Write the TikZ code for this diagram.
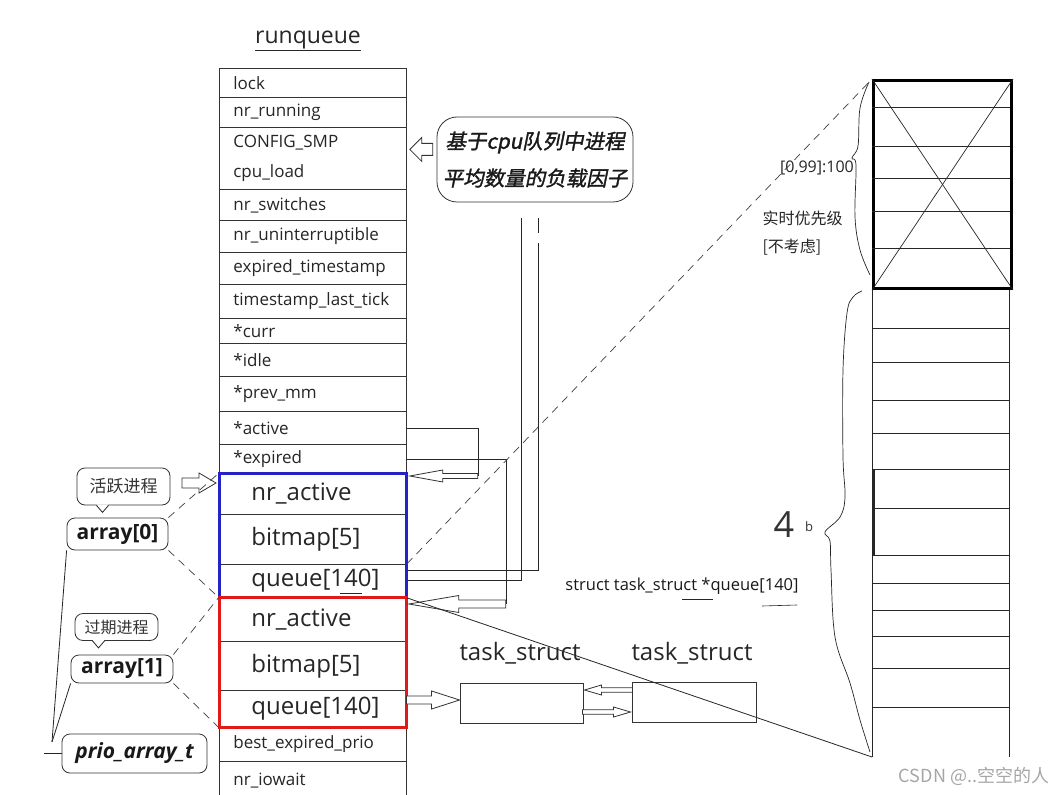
\documentclass[tikz,border=0pt]{standalone}
\usepackage{fontspec}
\setmainfont{Open Sans}
\newfontfamily\cjk{Noto Sans CJK SC}
\newfontfamily\cjkbi[FakeSlant=0.2,FakeBold=1.5]{Noto Sans CJK SC}
\usetikzlibrary{calc}
\definecolor{fblue}{RGB}{35,35,200}
\definecolor{fred}{RGB}{225,25,25}
\newcommand{\fsz}[1]{\fontsize{#1}{#1}\selectfont}
% hollow arrows: #1 tip, #2 total length, #3 head length, #4 head half height, #5 shaft half height
\newcommand{\arrL}[5]{\draw[harrow] (#1) -- ++(#3,-#4) -- ++(0,#4-#5) -- ++(#2-#3,0) -- ++(0,2*#5) -- ++(-#2+#3,0) -- ++(0,#4-#5) -- cycle;}
\newcommand{\arrR}[5]{\draw[harrow] (#1) -- ++(-#3,-#4) -- ++(0,#4-#5) -- ++(-#2+#3,0) -- ++(0,2*#5) -- ++(#2-#3,0) -- ++(0,#4-#5) -- cycle;}
\begin{document}
\begin{tikzpicture}[x=1pt,y=-1pt,
  ln/.style={draw=black!85, line width=0.8pt},
  row/.style={draw=black!80, line width=0.8pt, minimum width=187, anchor=north west, inner xsep=14, inner ysep=0, text width=159, align=left, font=\fsz{17}, text=black!85},
  big/.style={row, inner xsep=32, text width=123, font=\fsz{24}},
  dsh/.style={draw=black!75, line width=0.7pt, dash pattern=on 8pt off 6pt},
  bubble/.style={draw=black!80, line width=0.8pt, rounded corners=8, fill=white, inner sep=0},
  harrow/.style={draw=black!80, line width=0.8pt, fill=white},
  grid/.style={draw=black!85, line width=0.7pt},
]
\useasboundingbox (0,0) rectangle (1064,794);
\fill[white] (0,0) rectangle (1064,794);

% title
\node[font=\fsz{23}, text=black!85] (title) at (308,41) {\underline{runqueue}};

% runqueue rows
\node[row, minimum height=29] (lock) at (219,68) {lock};
\node[row, minimum height=30] (nrr) at (219,97) {nr\_running};
\node[row, minimum height=62] (smp) at (219,127) {CONFIG\_SMP\\[13pt]cpu\_load};
\node[row, minimum height=31] (nrsw) at (219,189) {nr\_switches};
\node[row, minimum height=32] (nrun) at (219,220) {nr\_uninterruptible};
\node[row, minimum height=32] (exts) at (219,252) {expired\_timestamp};
\node[row, minimum height=34] (tslt) at (219,284) {timestamp\_last\_tick};
\node[row, minimum height=25] (curr) at (219,318) {*curr};
\node[row, minimum height=33] (idle) at (219,343) {*idle};
\node[row, minimum height=35] (pmm) at (219,376) {*prev\_mm};
\node[row, minimum height=33] (act) at (219,411) {*active};
\node[row, minimum height=29] (exp) at (219,444) {*expired};
\node[big, minimum height=41] (nra0) at (219,473) {nr\_active};
\node[big, minimum height=50] (bm0) at (219,514) {bitmap[5]};
\node[big, minimum height=33] (q0) at (219,564) {queue[140]};
\node[big, minimum height=44] (nra1) at (219,597) {nr\_active};
\node[big, minimum height=49] (bm1) at (219,641) {bitmap[5]};
\node[big, minimum height=37] (q1) at (219,690) {queue[140]};
\node[row, minimum height=34] (bep) at (219,727) {best\_expired\_prio};
\node[row, minimum height=38] (iow) at (219,761) {nr\_iowait};
\draw[draw=fblue, line width=3pt] (nra0.north west) rectangle (q0.south east);
\draw[draw=fred, line width=3pt] (nra1.north west) rectangle (q1.south east);
\draw[ln, line width=0.6pt] (340,593) -- (362,593);

% callout
\node[draw=black!80, line width=0.8pt, rounded corners=20, minimum width=196, minimum height=85, align=center, inner sep=0, font=\cjkbi\fontsize{20.5}{37}\selectfont, text=black!90] (load) at (535,159.5) {基于cpu队列中进程\\平均数量的负载因子};
\arrL{$(smp.east)+(3,-9)$}{23}{12}{12}{6}

% double lines from queue[140] up to callout
\draw[ln] (q0.east |- 0,580) -- (521,580) -- (521,218);
\draw[ln] (q0.east |- 0,570) -- (538,570) -- (538,243);
\draw[ln] (538,233) -- (538,218);

% *active -> active array
\draw[ln] (act.east) -| (478,476);
\arrL{$(nra0.north east)+(3,3)$}{68}{33}{6}{2.5}
% *expired -> expired array
\draw[ln] (exp.east) -| (506,604);
\arrL{$(nra1.north east)+(2,7)$}{97}{50}{8.5}{4}

% left labels
\node[bubble, minimum width=93, minimum height=37, font=\cjk\fsz{17}, text=black!80] (hy) at (123.5,486.5) {活跃进程};
\fill[white] ($(hy.south)+(-27,-1)$) -- ++(6,8) -- ++(6,-8) -- cycle;
\draw[ln] ($(hy.south)+(-27,0)$) -- ++(6,7) -- ++(6,-7);
\node[bubble, minimum width=101, minimum height=32, font=\bfseries\fsz{21}, text=black!90] (a0) at (117.5,534) {array[0]};
\node[bubble, minimum width=83, minimum height=27, font=\cjk\fsz{16}, text=black!80] (gq) at (116.5,627) {过期进程};
\fill[white] ($(gq.south)+(-24,-1)$) -- ++(6,8) -- ++(6,-8) -- cycle;
\draw[ln] ($(gq.south)+(-24,0)$) -- ++(6,7) -- ++(6,-7);
\node[bubble, minimum width=102, minimum height=28, font=\bfseries\fsz{21}, text=black!90] (a1) at (122,669) {array[1]};
\node[bubble, minimum width=145, minimum height=39, font=\bfseries\itshape\fsz{21}, text=black!90] (pr) at (134.5,753.5) {prio\_array\_t};
\arrR{$(nra0.north west)+(-3,10)$}{34}{17}{10}{5}

\draw[dsh] (a0.north east) -- (nra0.north west);
\draw[dsh] (a0.south east) -- (q0.south west);
\draw[dsh] (a1.north east) -- (nra1.north west);
\draw[dsh] (a1.south east) -- (q1.south west);
\coordinate (jn) at (52,742);
\draw[ln] (a0.south west) -- (jn);
\draw[ln] (a1.south west) -- (jn);
\draw[ln] ($(pr.west)+(-18,0)$) -- (pr.west);

% task structs
\node[font=\fsz{24}, text=black!85] (tl1) at (520,653) {task\_struct};
\node[font=\fsz{24}, text=black!85] (tl2) at (692,653) {task\_struct};
\node[draw=black!80, line width=0.9pt, minimum width=123, minimum height=40, inner sep=0] (t1) at (521.5,703) {};
\node[draw=black!80, line width=0.9pt, minimum width=124, minimum height=40, inner sep=0] (t2) at (694,702) {};
\arrR{$(t1.west)+(0,-3)$}{53}{28}{9}{4}
\arrL{$(t1.east)+(1,-13)$}{48}{17}{5}{2.2}
\arrR{$(t2.west)+(-1,10)$}{48}{17}{5}{2.2}

\node[font=\fsz{16.5}, text=black!90] (sq) at (682,586) {struct task\_struct *queue[140]};
\draw[ln, line width=0.6pt] (682,599) -- (713,599);
\draw[ln, line width=0.6pt] (762,606) -- (797,605);

% right column
\node[draw=black, line width=3pt, minimum width=138, minimum height=208, anchor=north west, inner sep=0] (rt) at (872,79) {};
\foreach \yy in {107,146,178,211,248} \draw[grid] (872,\yy) -- (1010,\yy);
\draw[grid] (rt.north west) -- (rt.south east);
\draw[grid] (rt.north east) -- (rt.south west);
\coordinate (cb) at (872,757);
\coordinate (cbr) at (1009,757);
\draw[grid] (rt.south west) -- (cb);
\draw[grid] (rt.south east -| cbr) -- (cbr);
\foreach \yy in {328,362,400,433,469,508,555,583,610,636,668,707} \draw[grid] (872,\yy) -- (1009,\yy);
\draw[line width=1.4pt, black!85] (874,469) -- (874,555);

% long connector lines
\draw[dsh] (q0.north east) -- (rt.north west);
\draw[ln] (q0.south east) -- (cb);

% braces
\draw[ln, line width=0.7pt] plot[smooth, tension=0.6] coordinates {(869,82) (860,108) (858,146) (852,158) (856,165) (855,217) (860,250) (870,275)};
\draw[ln, line width=0.7pt] plot[smooth, tension=0.6] coordinates {(862,291) (853,297) (847,313) (843,370) (843,457) (845,497) (840,517) (825,532) (830,541) (831,570) (835,637) (850,683) (860,720) (870,752)};

% right labels
\node[font=\fsz{16}, text=black!85] (rng) at (817,168) {[0,99]:100};
\node[anchor=west, font=\cjk\fsz{16}, text=black!85] (rtp) at (759,218) {实时优先级};
\node[anchor=west, font=\cjk\fsz{16}, text=black!85] (nc) at (759,247) {[不考虑]};
\node[font=\fsz{36}, text=black!80] (four) at (784,525) {4};
\node[font=\fsz{13}, text=black!80] (fb) at (809,527) {b};

% watermark
\node[font=\cjk\fsz{18}, text=black!35] (wm) at (974,776) {CSDN @..空空的人};
\end{tikzpicture}
\end{document}
